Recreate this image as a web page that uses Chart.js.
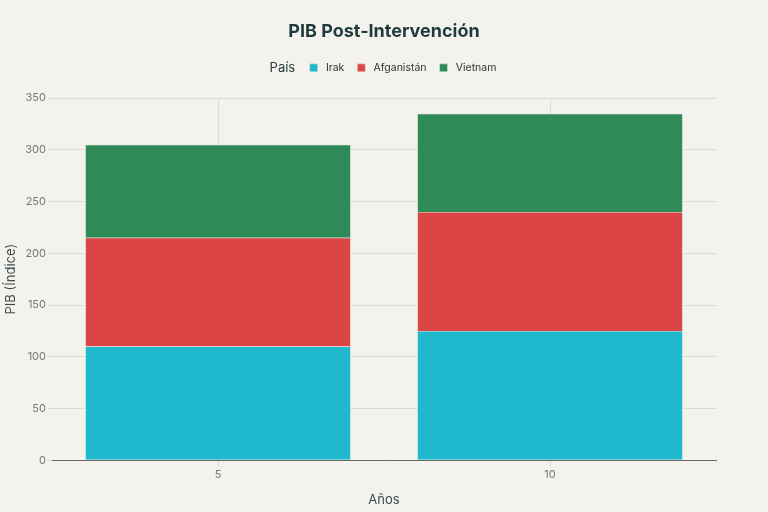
<!DOCTYPE html>
<html>
<head>
<meta charset="utf-8">
<script src="https://cdn.jsdelivr.net/npm/chart.js@4/dist/chart.umd.min.js"></script>
<style>
  html, body { margin: 0; padding: 0; background: #f3f2ec; }
  #wrap { width: 768px; height: 512px; }
</style>
</head>
<body>
<div id="wrap"><canvas id="pibChart" width="768" height="512"></canvas></div>
<script>
// years on the x axis
var years = ['5', '10'];
// stacked values per country
var irak = [110, 125];
var afganistan = [105, 115];
var vietnam = [90, 95];

var countryNames = ['Irak', 'Afganistán', 'Vietnam'];
var countryColors = ['#1FB8CD', '#DB4545', '#2E8B57'];
var legendTitle = 'País';

var fontFamily = 'Inter, "Open Sans", sans-serif';

window.onload = function () {
  var ctx = document.getElementById('pibChart');
  var pibChart = new Chart(ctx, {
    type: 'bar',
    data: {
      labels: years,
      datasets: [
        { label: countryNames[0], data: irak, backgroundColor: countryColors[0] },
        { label: countryNames[1], data: afganistan, backgroundColor: countryColors[1] },
        { label: countryNames[2], data: vietnam, backgroundColor: countryColors[2] }
      ]
    },
    options: {
      responsive: false,
      animation: false,
      // same padding left and right so title and legend stay centred
      layout: { padding: { left: 22, right: 22, top: 8, bottom: 0 } },
      datasets: {
        bar: {
          categoryPercentage: 1.0,
          barPercentage: 0.8,
          borderWidth: 0.6,
          borderColor: '#e4e4de'
        }
      },
      plugins: {
        title: {
          display: true,
          text: 'PIB Post-Intervención',
          color: '#1f3a3d',
          font: { family: fontFamily, size: 18, weight: 'bold' },
          padding: { top: 13, bottom: 7 }
        },
        legend: {
          position: 'top',
          onClick: function () {},
          labels: {
            boxWidth: 8,
            boxHeight: 8,
            padding: 13,
            color: '#333',
            font: { family: fontFamily, size: 10.5 },
            generateLabels: function (chart) {
              var items = Chart.defaults.plugins.legend.labels.generateLabels(chart);
              items.forEach(function (it) { it.text = ' ' + it.text; });
              // empty slot for the "País" heading, drawn in afterDraw
              items.unshift({
                text: '\u00a0\u00a0\u00a0\u00a0',
                fillStyle: 'rgba(0,0,0,0)',
                strokeStyle: 'rgba(0,0,0,0)',
                lineWidth: 0,
                fontColor: 'rgba(0,0,0,0)',
                hidden: false,
                datasetIndex: -1
              });
              return items;
            }
          }
        },
        tooltip: { enabled: false }
      },
      scales: {
        x: {
          stacked: true,
          grid: { offset: false, color: '#dcdcd5', drawTicks: true, tickLength: 6 },
          border: { display: true, color: '#666', width: 1 },
          ticks: { color: '#777', font: { family: fontFamily, size: 11 }, padding: 2 },
          title: {
            display: true,
            text: 'Años',
            color: '#3d4d4f',
            font: { family: fontFamily, size: 13 },
            padding: { top: 9 }
          }
        },
        y: {
          stacked: true,
          min: 0,
          max: 350,
          grid: { color: '#dcdcd5', tickLength: 4 },
          border: { display: false },
          ticks: { stepSize: 50, color: '#777', font: { family: fontFamily, size: 11 }, padding: 2 },
          title: {
            display: true,
            text: 'PIB (Índice)',
            color: '#3d4d4f',
            font: { family: fontFamily, size: 13 },
            // pulled out into the left padding
            padding: { top: -19 }
          },
          afterFit: function (scale) {
            scale.width = 30;
          }
        },
        // empty axis on the right, only to leave the same gap as on the left
        yRight: {
          position: 'right',
          display: true,
          grid: { display: false },
          border: { display: false },
          ticks: { display: false },
          afterFit: function (scale) {
            scale.width = 30;
          }
        }
      }
    },
    plugins: [{
      id: 'bg',
      afterInit: function (chart) {
        // extra room under the legend
        var fit = chart.legend.fit;
        chart.legend.fit = function () {
          fit.call(this);
          this.height += 15;
        };
      },
      beforeDraw: function (chart) {
        var c = chart.ctx;
        c.save();
        c.fillStyle = '#f3f2ec';
        c.fillRect(0, 0, chart.width, chart.height);
        c.restore();
      },
      afterDraw: function (chart) {
        var box = chart.legend.legendHitBoxes[0];
        if (!box) return;
        var c = chart.ctx;
        c.save();
        c.font = '13px ' + fontFamily;
        c.fillStyle = '#1f3a3d';
        c.textAlign = 'left';
        c.textBaseline = 'middle';
        c.fillText(legendTitle, box.left - 2, box.top + box.height / 2);
        c.restore();
      }
    }]
  });
};
</script>
</body>
</html>
